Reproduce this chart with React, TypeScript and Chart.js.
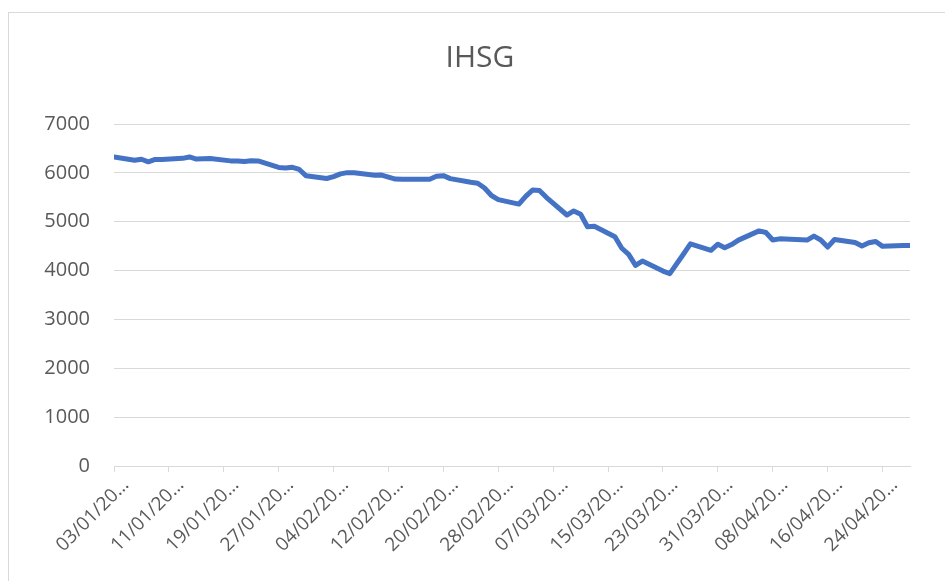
import React, { useEffect, useRef } from "react";
import { Chart, registerables } from "chart.js";

Chart.register(...registerables);

const TITLE = "IHSG";

const dates: string[] = [
  "2020-01-03", "2020-01-06", "2020-01-07", "2020-01-08", "2020-01-09", "2020-01-10",
  "2020-01-13", "2020-01-14", "2020-01-15", "2020-01-16", "2020-01-17",
  "2020-01-20", "2020-01-21", "2020-01-22", "2020-01-23", "2020-01-24",
  "2020-01-27", "2020-01-28", "2020-01-29", "2020-01-30", "2020-01-31",
  "2020-02-03", "2020-02-04", "2020-02-05", "2020-02-06", "2020-02-07",
  "2020-02-10", "2020-02-11", "2020-02-12", "2020-02-13", "2020-02-14",
  "2020-02-17", "2020-02-18", "2020-02-19", "2020-02-20", "2020-02-21",
  "2020-02-24", "2020-02-25", "2020-02-26", "2020-02-27", "2020-02-28",
  "2020-03-02", "2020-03-03", "2020-03-04", "2020-03-05", "2020-03-06",
  "2020-03-09", "2020-03-10", "2020-03-11", "2020-03-12", "2020-03-13",
  "2020-03-16", "2020-03-17", "2020-03-18", "2020-03-19", "2020-03-20",
  "2020-03-23", "2020-03-24", "2020-03-26", "2020-03-27",
  "2020-03-30", "2020-03-31", "2020-04-01", "2020-04-02", "2020-04-03",
  "2020-04-06", "2020-04-07", "2020-04-08", "2020-04-09",
  "2020-04-13", "2020-04-14", "2020-04-15", "2020-04-16", "2020-04-17",
  "2020-04-20", "2020-04-21", "2020-04-22", "2020-04-23", "2020-04-24",
  "2020-04-27", "2020-04-28",
];

const values: number[] = [
  6323, 6257, 6279, 6226, 6274, 6275,
  6297, 6325, 6283, 6287, 6292,
  6245, 6244, 6233, 6249, 6244,
  6111, 6100, 6113, 6069, 5940,
  5884, 5922, 5979, 6004, 6000,
  5952, 5954, 5913, 5872, 5867,
  5868, 5868, 5929, 5943, 5882,
  5807, 5787, 5689, 5536, 5453,
  5361, 5519, 5650, 5638, 5499,
  5137, 5221, 5154, 4896, 4908,
  4691, 4457, 4331, 4105, 4195,
  3990, 3938, 4339, 4546,
  4415, 4539, 4466, 4532, 4623,
  4812, 4779, 4627, 4649,
  4624, 4706, 4626, 4481, 4635,
  4576, 4502, 4568, 4594, 4496,
  4513, 4512,
];

const Y_TICKS: number[] = [0, 1000, 2000, 3000, 4000, 5000, 6000, 7000];
const X_TICK_STEP_DAYS = 8;

const FONT = "'Open Sans', 'Liberation Sans', sans-serif";
const TEXT_COLOR = "#595959";
const GRID_COLOR = "#d9d9d9";
const LINE_COLOR = "#4472C4";

const DAY_MS = 86400000;
const parseDate = (s: string) => {
  const [y, m, d] = s.split("-").map(Number);
  return Date.UTC(y, m - 1, d);
};
const startMs = parseDate(dates[0]);
const dayIndex = dates.map((d) => Math.round((parseDate(d) - startMs) / DAY_MS));
const lastDay = dayIndex[dayIndex.length - 1];

const pad2 = (n: number) => (n < 10 ? "0" + n : String(n));
const tickLabel = (day: number) => {
  const t = new Date(startMs + day * DAY_MS);
  const full = `${pad2(t.getUTCDate())}/${pad2(t.getUTCMonth() + 1)}/${t.getUTCFullYear()}`;
  return full.slice(0, 8) + "\u2026";
};

const CANVAS_W = 942;
const CANVAS_H = 568;

export default function App() {
  const ref = useRef<HTMLCanvasElement | null>(null);

  useEffect(() => {
    if (!ref.current) return;
    const chart = new Chart(ref.current, {
      type: "line",
      data: {
        datasets: [
          {
            label: TITLE,
            data: dayIndex.map((x, i) => ({ x, y: values[i] })),
            borderColor: LINE_COLOR,
            backgroundColor: LINE_COLOR,
            borderWidth: 5,
            pointRadius: 0,
            tension: 0,
            fill: false,
            borderCapStyle: "round",
            borderJoinStyle: "round",
          },
        ],
      },
      options: {
        responsive: false,
        animation: false,
        layout: { padding: 0 },
        plugins: {
          legend: { display: false },
          tooltip: { enabled: false },
          title: {
            display: true,
            text: TITLE,
            color: TEXT_COLOR,
            font: { family: FONT, size: 30, weight: "normal", lineHeight: 1.2 },
            padding: { top: 27, bottom: 48 },
          },
        },
        scales: {
          x: {
            type: "linear",
            min: 0,
            max: lastDay,
            afterFit: (s: any) => {
              s.height = 115;
              s.paddingRight = 41;
            },
            grid: {
              display: true,
              drawOnChartArea: false,
              drawTicks: true,
              tickLength: 6,
              color: GRID_COLOR,
            },
            border: { display: true, color: GRID_COLOR, width: 1 },
            ticks: {
              stepSize: X_TICK_STEP_DAYS,
              includeBounds: false,
              autoSkip: false,
              minRotation: 45,
              maxRotation: 45,
              labelOffset: 12,
              padding: 2,
              color: TEXT_COLOR,
              font: { family: FONT, size: 19 },
              callback: (v: any) => tickLabel(Number(v)),
            },
          },
          y: {
            min: Y_TICKS[0],
            max: Y_TICKS[Y_TICKS.length - 1],
            afterFit: (s: any) => {
              s.width = 105;
            },
            afterBuildTicks: (s: any) => {
              s.ticks = Y_TICKS.map((v) => ({ value: v }));
            },
            grid: { color: GRID_COLOR, drawTicks: false },
            border: { display: false },
            ticks: {
              padding: 24,
              color: TEXT_COLOR,
              font: { family: FONT, size: 20 },
              callback: (v: any) => String(v),
            },
          },
        },
      },
    } as any);
    return () => chart.destroy();
  }, []);

  return (
    <div
      style={{
        position: "fixed",
        left: 8,
        top: 12,
        width: 1000,
        height: 700,
        border: "1px solid #d9d9d9",
        background: "#fff",
      }}
    >
      <canvas
        ref={ref}
        width={CANVAS_W}
        height={CANVAS_H}
        style={{ width: CANVAS_W, height: CANVAS_H, display: "block" }}
      />
    </div>
  );
}
